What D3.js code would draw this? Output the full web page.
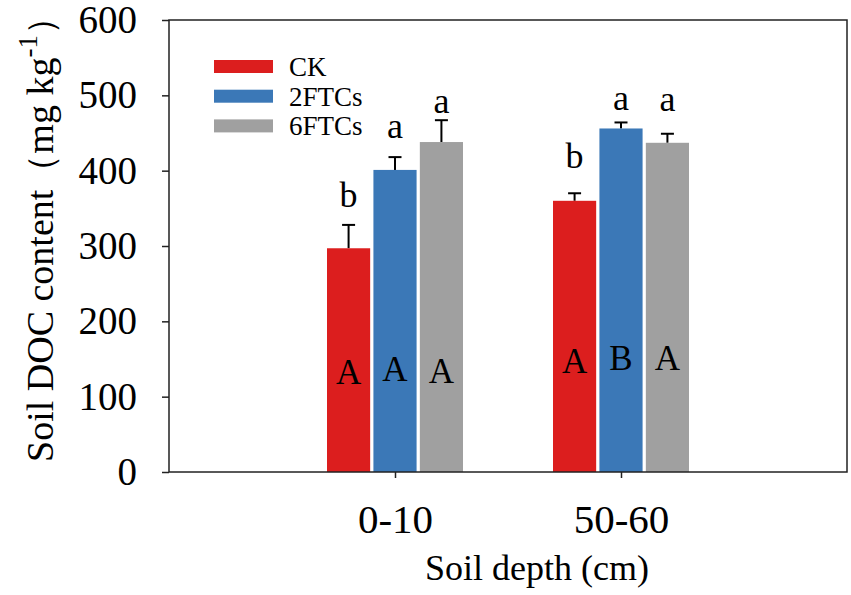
<!DOCTYPE html>
<html>
<head>
<meta charset="utf-8">
<script src="https://cdn.jsdelivr.net/npm/d3@7"></script>
<style>
  body { margin: 0; background: #fff; }
  svg text, svg tspan { font-family: "Liberation Serif", "Times New Roman", serif; fill: #000; }
</style>
</head>
<body>
<div id="chart"></div>
<script>
// depth groups and treatments
const depths = ['0-10', '50-60'];
const treatments = ['CK', '2FTCs', '6FTCs'];
const colors = ['#dc1e1e', '#3b78b7', '#a0a0a0'];

// mean DOC content (mg/kg) and upper error, per treatment, in depth order
const ckMean = [297, 360];
const ftc2Mean = [401, 456];
const ftc6Mean = [438, 437];
const ckErr = [31, 10];
const ftc2Err = [17, 8];
const ftc6Err = [29, 12];

// significance letters and where they sit (in data units)
const lowerLetters = [['b', 'a', 'a'], ['b', 'a', 'a']];
const lowerLetterY = [[352, 443, 477], [404, 481, 479]];
const upperLetters = [['A', 'A', 'A'], ['A', 'B', 'A']];
const upperLetterY = [[117, 121, 118], [131, 136, 136]];

const yTicks = [0, 100, 200, 300, 400, 500, 600];

const W = 851, H = 595;
const mLeft = 169, mRight = 847, mTop = 20, mBottom = 472;
const serif = '"Liberation Serif", "Times New Roman", serif';
const cjk = '"Noto Sans CJK SC", sans-serif';

const svg = d3.select('#chart').append('svg')
  .attr('width', W).attr('height', H);

const x = d3.scaleLinear().domain([0, 3]).range([mLeft, mRight]);
const y = d3.scaleLinear().domain([0, 600]).range([mBottom, mTop]);
const xInner = d3.scaleBand().domain(treatments).range([-68, 68]).paddingInner(0.07);

const means = [ckMean, ftc2Mean, ftc6Mean];
const errs = [ckErr, ftc2Err, ftc6Err];

let rows = [];
depths.forEach((dep, di) => {
  treatments.forEach((t, ti) => {
    rows.push({
      depth: dep, di: di, t: t, ti: ti,
      v: means[ti][di], e: errs[ti][di],
      low: lowerLetters[di][ti], lowY: lowerLetterY[di][ti],
      up: upperLetters[di][ti], upY: upperLetterY[di][ti]
    });
  });
});

const barX = d => x(d.di + 1) + xInner(d.t);
const barMid = d => barX(d) + xInner.bandwidth() / 2;

// error bars first, bars drawn over them
const eb = svg.append('g').attr('stroke', '#000').attr('stroke-width', 2);
eb.selectAll('line.v').data(rows).enter().append('line')
  .attr('x1', barMid).attr('x2', barMid)
  .attr('y1', d => y(d.v)).attr('y2', d => y(d.v + d.e));
eb.selectAll('line.c').data(rows).enter().append('line')
  .attr('x1', d => barMid(d) - 6.5).attr('x2', d => barMid(d) + 6.5)
  .attr('y1', d => y(d.v + d.e)).attr('y2', d => y(d.v + d.e));

svg.append('g').selectAll('rect').data(rows).enter().append('rect')
  .attr('x', barX)
  .attr('y', d => y(d.v))
  .attr('width', xInner.bandwidth())
  .attr('height', d => y(0) - y(d.v))
  .attr('fill', d => colors[d.ti]);

// letters
svg.append('g').selectAll('text').data(rows).enter().append('text')
  .attr('x', barMid).attr('y', d => y(d.lowY))
  .attr('text-anchor', 'middle').attr('font-size', 36)
  .text(d => d.low);
svg.append('g').selectAll('text').data(rows).enter().append('text')
  .attr('x', barMid).attr('y', d => y(d.upY))
  .attr('text-anchor', 'middle').attr('font-size', 35)
  .text(d => d.up);

// frame
svg.append('rect')
  .attr('x', mLeft).attr('y', mTop)
  .attr('width', mRight - mLeft).attr('height', mBottom - mTop)
  .attr('fill', 'none').attr('stroke', '#222').attr('stroke-width', 1.5);

// y axis
const yAxis = svg.append('g')
  .attr('transform', `translate(${mLeft},0)`)
  .call(d3.axisLeft(y).tickValues(yTicks).tickSize(7).tickPadding(25));
yAxis.select('.domain').remove();
yAxis.selectAll('line').attr('stroke', '#222').attr('stroke-width', 1.5);
yAxis.selectAll('text').attr('font-size', 39)
  .attr('font-family', serif).attr('fill', '#000');

// x axis
const xAxis = svg.append('g')
  .attr('transform', `translate(0,${mBottom})`)
  .call(d3.axisBottom(x).tickValues([1, 2]).tickFormat(i => depths[i - 1]).tickSize(6).tickPadding(26));
xAxis.select('.domain').remove();
xAxis.selectAll('line').attr('stroke', '#222').attr('stroke-width', 1.5);
xAxis.selectAll('text').attr('font-size', 41)
  .attr('font-family', serif).attr('fill', '#000');

// axis titles
svg.append('text')
  .attr('x', 537).attr('y', 580)
  .attr('text-anchor', 'middle').attr('font-size', 36)
  .text('Soil depth (cm)');

const yt = svg.append('text')
  .attr('transform', 'translate(53,462) rotate(-90)')
  .attr('font-size', 38).attr('font-family', serif);
yt.append('tspan').attr('font-family', serif).text('Soil DOC content');
yt.append('tspan').attr('font-family', cjk).attr('font-size', 36).text('（');
yt.append('tspan').attr('font-family', serif).text('mg kg');
yt.append('tspan').attr('font-family', serif).attr('font-size', 27).attr('dy', -16).text('-1');
yt.append('tspan').attr('dy', 16).attr('font-family', cjk).attr('font-size', 36).text('）');

// legend
const lg = svg.append('g').selectAll('g').data(treatments).enter().append('g')
  .attr('transform', (d, i) => `translate(214,${60 + i * 29.7})`);
lg.append('rect').attr('width', 59).attr('height', 13).attr('fill', (d, i) => colors[i]);
lg.append('text').attr('x', 75).attr('y', 16).attr('font-size', 27).text(d => d);
</script>
</body>
</html>
